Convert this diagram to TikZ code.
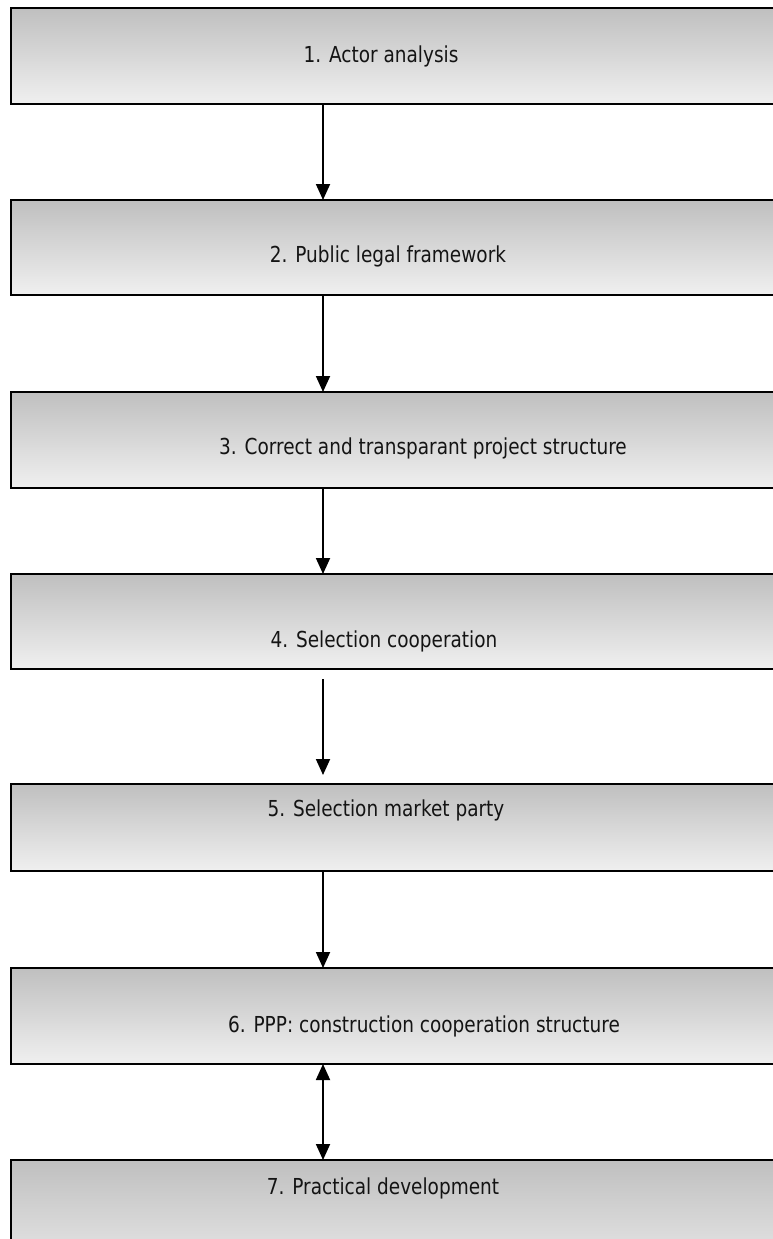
\documentclass[tikz,border=0pt]{standalone}
\usepackage{fontspec}
\setmainfont{DejaVu Sans}[FakeStretch=0.84]
\usetikzlibrary{arrows.meta}
\begin{document}
\begin{tikzpicture}[x=1pt,y=-1pt,
  stagebox/.style={draw=black,line width=2pt,rectangle,outer sep=0pt,
    minimum width=820pt,anchor=north west,inner sep=0pt,
    top color=black!25,bottom color=black!6},
  stagetext/.style={font=\fontsize{22}{26}\selectfont,inner sep=0pt,anchor=base,text=black!92},
  flow/.style={line width=1.8pt,-{Triangle[width=14pt,length=16pt]}},
  dflow/.style={line width=1.8pt,{Triangle[width=14pt,length=16pt]}-{Triangle[width=14pt,length=16pt]}}]
\useasboundingbox (0,0) rectangle (773,1239);
% stage boxes, running off the right and bottom edges
\begin{scope}
\clip (0,0) rectangle (773,1239);
\node[stagebox,minimum height=96pt] (b1) at (11,8) {};
\node[stagebox,minimum height=95pt] (b2) at (11,200) {};
\node[stagebox,minimum height=96pt] (b3) at (11,392) {};
\node[stagebox,minimum height=95pt] (b4) at (11,574) {};
\node[stagebox,minimum height=87pt] (b5) at (11,784) {};
\node[stagebox,minimum height=96pt] (b6) at (11,968) {};
\node[stagebox,minimum height=130pt] (b7) at (11,1160) {};
\end{scope}
\coordinate (ax) at (323,0);
% stage labels
\node[stagetext] (t1) at (381,63) {1. Actor analysis};
\node[stagetext] (t2) at (388,262) {2. Public legal framework};
\node[stagetext] (t3) at (423,454) {3. Correct and transparant project structure};
\node[stagetext] (t4) at (384,647) {4. Selection cooperation};
\node[stagetext] (t5) at (386,816) {5. Selection market party};
\node[stagetext] (t6) at (424,1032) {6. PPP: construction cooperation structure};
\node[stagetext] (t7) at (383,1194) {7. Practical development};
% connectors between the stages
\draw[flow] (b1.south -| ax) -- (b2.north -| ax);
\draw[flow] (b2.south -| ax) -- (b3.north -| ax);
\draw[flow] (b3.south -| ax) -- (b4.north -| ax);
\draw[flow,shorten <=10pt,shorten >=9pt] (b4.south -| ax) -- (b5.north -| ax);
\draw[flow] (b5.south -| ax) -- (b6.north -| ax);
\draw[dflow] (b6.south -| ax) -- (b7.north -| ax);
\end{tikzpicture}
\end{document}
